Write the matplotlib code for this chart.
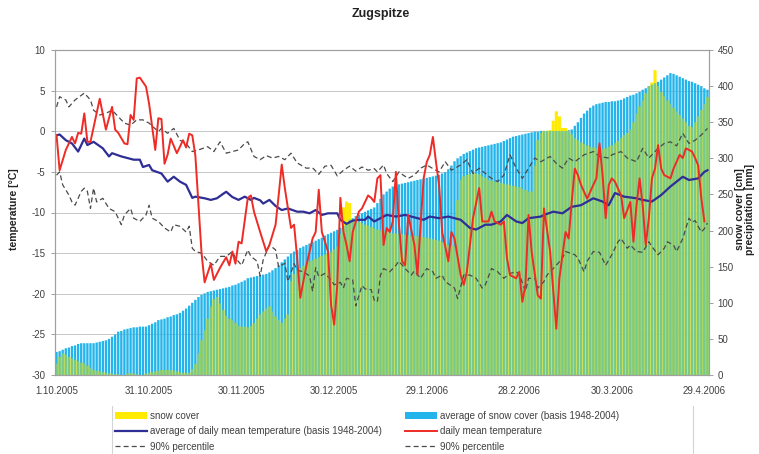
import numpy as np
import matplotlib
matplotlib.use("Agg")
import matplotlib.pyplot as plt
from matplotlib.patches import Patch
from matplotlib.lines import Line2D

plt.rcParams['font.family'] = ['Liberation Sans', 'DejaVu Sans']
plt.rcParams['axes.unicode_minus'] = False

# ---------------- data ----------------
tick_days = [0, 30, 60, 90, 120, 150, 180, 210]
tick_labels = ["1.10.2005", "31.10.2005", "30.11.2005", "30.12.2005",
               "29.1.2006", "28.2.2006", "30.3.2006", "29.4.2006"]

# average snow cover (basis 1948-2004), cm, daily from 1.10.2005
avg_snow = [32, 33, 35, 37, 38, 40, 41, 43, 44, 44,
            44, 44, 44, 45, 46, 47, 48, 50, 53, 56,
            60, 61, 63, 64, 65, 66, 66, 67, 67, 67,
            69, 71, 73, 76, 77, 78, 80, 81, 83, 84,
            86, 89, 92, 96, 100, 104, 108, 111, 113, 115,
            116, 117, 118, 119, 120, 121, 122, 124, 125, 127,
            129, 131, 134, 135, 136, 137, 138, 139, 140, 142,
            145, 148, 152, 156, 160, 164, 168, 171, 173, 176,
            178, 180, 182, 184, 186, 188, 190, 193, 195, 197,
            199, 201, 204, 207, 211, 215, 217, 220, 222, 224,
            226, 228, 230, 232, 238, 244, 250, 254, 258, 261,
            263, 264, 265, 266, 267, 268, 269, 270, 271, 272,
            273, 274, 275, 276, 277, 279, 281, 285, 290, 296,
            300, 303, 306, 308, 310, 312, 314, 315, 316, 317,
            318, 319, 320, 321, 322, 324, 326, 328, 330, 331,
            332, 333, 334, 335, 336, 337, 337, 338, 338, 338,
            338, 338, 338, 338, 338, 338, 339, 340, 345, 350,
            356, 362, 366, 370, 373, 375, 376, 377, 378, 378,
            379, 379, 380, 381, 383, 385, 387, 388, 390, 392,
            395, 397, 400, 402, 404, 406, 409, 412, 415, 418,
            417, 415, 413, 411, 409, 407, 406, 404, 402, 400,
            397, 395]

# snow cover 2005/06, cm, daily
snow = [16, 25, 30, 28, 25, 23, 21, 19, 17, 16,
        13, 10, 7, 6, 5, 4, 3, 2, 2, 1,
        1, 0, 0, 2, 3, 2, 1, 0, 0, 2,
        3, 4, 5, 6, 7, 7, 7, 7, 6, 5,
        4, 3, 3, 3, 8, 15, 30, 48, 62, 78,
        95, 105, 108, 99, 90, 82, 78, 76, 72, 68,
        67, 67, 66, 68, 72, 78, 84, 88, 92, 95,
        88, 81, 76, 72, 78, 84, 130, 140, 145, 148,
        151, 154, 157, 159, 161, 163, 165, 167, 168, 170,
        174, 178, 195, 232, 240, 238, 215, 214, 212, 210,
        208, 207, 205, 203, 201, 200, 199, 198, 197, 196,
        196, 195, 195, 194, 194, 193, 193, 192, 192, 191,
        190, 189, 188, 187, 186, 184, 182, 180, 179, 178,
        242, 270, 275, 277, 278, 279, 279, 278, 275, 273,
        270, 269, 268, 267, 266, 265, 264, 263, 262, 261,
        260, 258, 256, 254, 254, 290, 325, 335, 338, 338,
        339, 352, 365, 358, 342, 342, 338, 333, 328, 325,
        322, 320, 318, 316, 315, 314, 313, 313, 314, 316,
        318, 321, 324, 328, 332, 335, 340, 350, 362, 372,
        380, 390, 400, 405, 422, 400, 392, 386, 380, 375,
        370, 365, 360, 355, 350, 345, 343, 350, 358, 367,
        375, 385]

# daily mean temperature (day index, degC)
temp_days = [0, 1, 3, 5, 6, 7, 8, 9, 10, 11, 14, 16, 18, 19, 20, 22, 23, 24, 25, 26,
             27, 29, 30, 32, 33, 34, 35, 36, 37, 39, 41, 42, 43, 44, 45, 46, 47, 48, 50, 51,
             53, 55, 56, 57, 58, 59, 60, 62, 63, 64, 66, 68, 69, 71, 72, 73, 74, 76, 77, 78,
             79, 81, 83, 84, 85, 86, 88, 89, 90, 91, 92, 93, 94, 95, 96, 98, 99, 101, 102, 103,
             104, 105, 106, 107, 108, 109, 110, 111, 112, 113, 114, 116, 117, 118, 119, 120, 121, 122, 123, 124,
             125, 127, 128, 129, 131, 132, 133, 134, 135, 137, 138, 140, 141, 142, 144, 145, 146, 147, 149, 150,
             151, 152, 153, 154, 156, 157, 158, 160, 162, 163, 165, 166, 167, 168, 169, 170, 172, 174, 175, 176,
             177, 178, 179, 180, 181, 183, 184, 186, 187, 188, 189, 190, 191, 192, 193, 194, 195, 196, 197, 199,
             200, 202, 203, 204, 206, 207, 208, 209, 210]
temp_vals = [-0.5, -4.8, -2.3, -0.7, -1.5, -0.2, -0.3, 2.2, -1.3, -1.3, 4.0, 0.2, 3.0, 0.2, -0.2, -1.5, -1.6, 2.0, 1.4, 6.5,
             6.6, 5.5, 3.4, -2.3, 1.6, 1.5, -4.0, -2.9, -0.9, -2.7, -1.1, -2.0, -0.3, -0.5, -3.0, -9.0, -15.0, -18.6, -16.3, -18.3,
             -16.8, -15.5, -16.5, -14.8, -16.3, -13.6, -13.8, -8.2, -7.9, -9.9, -12.4, -14.8, -14.0, -11.5, -7.9, -4.1, -7.0, -11.9, -11.5, -15.6,
             -20.5, -16.5, -13.2, -12.4, -7.2, -12.4, -14.8, -21.4, -23.8, -18.9, -8.2, -12.4, -14.0, -16.0, -12.4, -9.9, -9.5, -7.9, -8.2, -8.7,
             -5.8, -5.4, -14.0, -11.9, -12.4, -11.1, -5.0, -11.5, -16.0, -16.5, -10.3, -14.0, -17.7, -11.5, -5.8, -3.8, -2.9, -0.7, -3.8, -6.6,
             -12.4, -16.0, -12.4, -13.2, -17.7, -18.9, -17.3, -14.0, -10.7, -7.0, -11.1, -11.1, -9.9, -11.1, -11.5, -11.1, -15.6, -17.7, -18.1, -17.3,
             -21.0, -18.9, -10.3, -14.8, -20.2, -20.6, -9.5, -14.8, -24.3, -18.1, -12.4, -13.2, -8.7, -4.6, -5.4, -6.6, -8.3, -6.6, -5.8, -1.5,
             -5.4, -10.7, -6.6, -5.8, -6.2, -7.9, -10.7, -8.7, -13.6, -9.1, -5.8, -9.1, -14.0, -10.7, -5.8, -4.6, -1.7, -4.6, -5.4, -5.8,
             -4.6, -2.9, -3.3, -2.1, -2.5, -3.3, -4.2, -8.2, -11.1]

# average of daily mean temperature (basis 1948-2004)
avgT_days = [0, 1, 3, 5, 7, 9, 10, 12, 15, 17, 18, 21, 23, 25, 27, 28, 30, 31, 34, 36,
             38, 40, 42, 44, 45, 48, 50, 52, 54, 55, 57, 59, 61, 63, 64, 66, 67, 69, 71, 73,
             75, 78, 80, 82, 84, 86, 88, 91, 92, 94, 96, 98, 100, 101, 103, 105, 107, 110, 113, 117,
             119, 121, 124, 127, 131, 134, 136, 139, 141, 144, 146, 149, 151, 153, 157, 158, 161, 164, 167, 170,
             174, 177, 179, 181, 184, 188, 190, 193, 196, 199, 203, 205, 208, 210, 211]
avgT_vals = [-0.5, -0.4, -1.1, -1.5, -2.5, -0.9, -1.7, -1.3, -2.1, -3.1, -2.7, -3.1, -3.3, -3.5, -3.5, -4.4, -4.15, -4.8, -5.2, -6.2,
             -5.6, -6.2, -6.6, -8.2, -8.05, -8.25, -8.45, -8.25, -7.7, -7.45, -8.1, -8.45, -8.05, -8.45, -8.2, -8.5, -8.9, -8.45, -9.2, -9.7,
             -9.5, -9.9, -9.9, -10.1, -9.7, -10.3, -10.1, -10.1, -10.9, -11.4, -11.0, -10.9, -10.9, -10.5, -11.1, -10.7, -10.3, -10.5, -10.3, -10.7,
             -10.9, -10.5, -10.7, -10.5, -10.9, -11.9, -12.1, -11.5, -11.5, -11.1, -10.3, -11.1, -11.3, -10.7, -10.5, -10.3, -9.9, -10.1, -9.3, -9.1,
             -8.25, -8.65, -9.1, -7.6, -8.05, -8.25, -8.45, -8.65, -7.85, -6.8, -5.6, -6.0, -5.8, -5.0, -4.8]

# 90% percentile, upper
pct_hi_days = [0, 1, 3, 4, 6, 9, 11, 12, 14, 16, 18, 20, 22, 24, 26, 28, 30, 33, 34, 36,
               38, 40, 42, 44, 46, 49, 51, 53, 55, 57, 59, 61, 62, 64, 66, 68, 70, 72, 74, 76,
               78, 81, 83, 85, 87, 89, 91, 93, 95, 97, 99, 101, 103, 104, 106, 107, 109, 111, 112, 114,
               116, 118, 120, 122, 124, 126, 128, 131, 133, 135, 137, 139, 141, 143, 145, 147, 149, 151, 153, 155,
               157, 160, 162, 164, 166, 168, 171, 174, 176, 179, 180, 183, 185, 188, 190, 192, 195, 197, 199, 201,
               203, 205, 207, 209, 211]
pct_hi_vals = [3.0, 4.25, 3.85, 3.0, 3.85, 4.7, 3.85, 2.6, 2.0, 2.2, 2.6, 1.8, 1.0, 0.75, 1.4, 1.4, 1.0, -0.05, 0.35, -0.25,
               0.35, -1.1, -1.5, -2.5, -2.3, -1.9, -2.5, -1.3, -2.7, -2.5, -2.3, -1.5, -1.3, -3.1, -3.5, -3.0, -3.3, -3.1, -3.5, -2.7,
               -3.9, -4.55, -4.5, -5.3, -4.3, -4.2, -5.5, -4.8, -4.3, -4.9, -4.4, -4.8, -4.6, -5.0, -4.15, -5.2, -6.2, -5.0, -5.3, -5.8,
               -5.4, -4.55, -4.15, -4.6, -5.0, -3.75, -4.8, -4.15, -3.5, -5.2, -4.55, -5.2, -5.8, -6.2, -5.4, -2.9, -4.55, -5.8, -4.55, -3.3,
               -3.75, -3.1, -3.95, -4.55, -3.3, -3.75, -2.9, -2.5, -3.1, -3.3, -2.9, -2.5, -3.3, -3.75, -2.1, -3.3, -2.1, -1.5, -1.3, -1.8,
               -0.25, -1.5, -1.1, -0.46, 0.35]

# 90% percentile, lower
pct_lo_days = [0, 1, 2, 4, 5, 6, 8, 9, 10, 11, 12, 13, 15, 17, 19, 21, 22, 24, 25, 27,
               29, 30, 31, 33, 35, 37, 38, 40, 42, 43, 44, 45, 47, 49, 51, 53, 55, 57, 58, 60,
               62, 63, 65, 66, 67, 69, 71, 72, 74, 75, 77, 78, 80, 82, 83, 84, 85, 87, 89, 90,
               92, 93, 94, 96, 97, 99, 100, 102, 103, 104, 105, 106, 108, 110, 111, 113, 115, 116, 118, 120,
               122, 123, 125, 126, 129, 130, 132, 134, 136, 138, 139, 141, 143, 145, 147, 149, 150, 152, 153, 155,
               156, 158, 159, 162, 164, 165, 168, 169, 171, 172, 174, 176, 178, 180, 182, 183, 185, 186, 188, 190,
               192, 193, 195, 197, 198, 200, 201, 203, 205, 206, 207, 209, 210, 211]
pct_lo_vals = [-5.4, -5.0, -6.6, -7.85, -8.7, -9.1, -7.4, -7.0, -7.4, -9.5, -7.0, -8.7, -8.25, -9.5, -9.9, -11.5, -10.3, -9.5, -10.7, -11.1,
               -10.3, -9.1, -10.7, -11.1, -11.9, -12.4, -11.5, -11.7, -12.4, -11.7, -14.4, -14.8, -15.0, -16.0, -16.5, -15.4, -15.4, -14.8, -15.6, -16.5,
               -14.6, -15.4, -16.0, -17.8, -15.8, -14.0, -14.6, -16.7, -16.25, -18.5, -16.3, -17.1, -17.3, -17.8, -19.7, -16.8, -17.9, -17.5, -18.3, -18.9,
               -18.6, -19.3, -18.1, -18.3, -21.5, -19.0, -19.4, -19.5, -20.8, -21.0, -17.7, -16.9, -17.3, -16.5, -16.0, -16.9, -17.7, -17.2, -18.1, -16.9,
               -17.3, -18.1, -17.7, -18.5, -19.3, -20.6, -17.7, -17.7, -18.1, -19.3, -18.9, -16.9, -17.3, -18.1, -17.5, -17.3, -17.6, -19.7, -18.1, -18.1,
               -19.3, -18.5, -17.7, -16.5, -15.6, -14.8, -15.2, -15.6, -17.3, -16.0, -14.8, -14.9, -16.5, -15.2, -13.6, -13.2, -14.4, -14.0, -14.8, -14.9,
               -13.6, -14.2, -15.2, -14.4, -13.6, -14.0, -14.8, -13.2, -10.7, -11.2, -11.0, -12.4, -12.0, -11.3]

temp_ticks = [-30, -25, -20, -15, -10, -5, 0, 5, 10]
snow_ticks = [0, 50, 100, 150, 200, 250, 300, 350, 400, 450]

# ---------------- styling ----------------
C_YEL = '#FFEB00'
C_BLU = '#22B4EA'
C_NAVY = '#2E2E96'
C_RED = '#EE2B25'
C_DASH = '#4a4a4a'
C_TXT = '#404040'
C_SPINE = '#a0a0a0'

W, H = 759, 454
fig = plt.figure(figsize=(W / 100, H / 100), dpi=100)
ax = fig.add_axes([55 / W, 1 - 375 / H, 654 / W, 325 / H])
axT = ax.twinx()

days = np.arange(len(avg_snow))

# bars (snow) on the base axes -> right-hand scale.
# yellow and light-blue columns interleave; where both exist the thin
# stripes read as green, as in the printed chart.
ax.bar(days, snow, width=1.0, color=C_YEL, linewidth=0, zorder=2, snap=False)
ax.bar(days, avg_snow, width=0.76, color=C_BLU, linewidth=0, zorder=3, snap=False)
ax.bar(days, snow, width=0.76, color=C_YEL, alpha=0.40, linewidth=0, zorder=4,
       snap=False)
ax.set_xlim(-0.5, len(avg_snow) - 0.5)
ax.set_ylim(0, 450)
ax.set_yticks(snow_ticks)
ax.yaxis.tick_right()
ax.yaxis.set_label_position('right')

# grid lines at temperature ticks, behind bars
ax.hlines(temp_ticks[1:-1], -0.5, len(avg_snow) - 0.5, colors='#c6c6c6',
          linewidth=0.7, transform=axT.transData, zorder=1)

# temperature lines on the twin axes -> left-hand scale
axT.plot(pct_hi_days, pct_hi_vals, color=C_DASH, lw=0.9, dashes=(4, 2.5))
axT.plot(pct_lo_days, pct_lo_vals, color=C_DASH, lw=0.9, dashes=(4, 2.5))
axT.plot(avgT_days, avgT_vals, color=C_NAVY, lw=1.6)
axT.plot(temp_days, temp_vals, color=C_RED, lw=1.4)
axT.set_ylim(-30, 10)
axT.set_yticks(temp_ticks)
axT.set_yticklabels([str(t) for t in temp_ticks])
axT.yaxis.tick_left()
axT.yaxis.set_label_position('left')

ax.set_xticks(tick_days)
ax.set_xticklabels(tick_labels)

for a in (ax, axT):
    for s in a.spines.values():
        s.set_color(C_SPINE)
        s.set_linewidth(0.8)
ax.tick_params(axis='x', length=0, pad=8, labelsize=7, labelcolor=C_TXT)
ax.tick_params(axis='y', length=3, width=0.7, color=C_SPINE, pad=3,
               labelsize=7, labelcolor=C_TXT)
axT.tick_params(axis='y', length=3, width=0.7, color=C_SPINE, pad=4,
                labelsize=7, labelcolor=C_TXT)

# texts
fig.text(381 / W, 1 - 14 / H, 'Zugspitze', ha='center', va='center',
         fontsize=9, fontweight='bold', color='#222222')
fig.text(14 / W, 1 - 209 / H, 'temperature [°C]', rotation=90, ha='center',
         va='center', fontsize=7.5, fontweight='bold', color='#222222')
fig.text(745 / W, 1 - 209 / H, 'snow cover [cm]\nprecipitation [mm]', rotation=90,
         ha='center', va='center', fontsize=7.5, fontweight='bold',
         color='#222222', linespacing=1.1)

# legend
h_snow = Patch(facecolor=C_YEL, edgecolor='none')
h_avgsnow = Patch(facecolor=C_BLU, edgecolor='none')
h_avgT = Line2D([], [], color=C_NAVY, lw=1.6)
h_temp = Line2D([], [], color=C_RED, lw=1.4)
h_pct = Line2D([], [], color=C_DASH, lw=0.9, dashes=(4, 2.5))

common = dict(frameon=False, fontsize=7, handlelength=3.3, handleheight=0.7,
              handletextpad=0.3, labelspacing=0.55, borderpad=0,
              borderaxespad=0, loc='upper left', labelcolor=C_TXT)
leg1 = fig.legend([h_snow, h_avgT, h_pct],
                  ['snow cover', 'average of daily mean temperature (basis 1948-2004)',
                   '90% percentile'],
                  bbox_to_anchor=(115 / W, 1 - 411 / H), **common)
leg2 = fig.legend([h_avgsnow, h_temp, h_pct],
                  ['average of snow cover (basis 1948-2004)', 'daily mean temperature',
                   '90% percentile'],
                  bbox_to_anchor=(405 / W, 1 - 411 / H), **common)

# legend box side borders
for xp in (112, 693):
    fig.add_artist(Line2D([xp / W, xp / W], [1 - 406 / H, 0], color='#d4d4d4',
                          lw=0.8, transform=fig.transFigure))

fig.savefig('out.png', dpi=100)
